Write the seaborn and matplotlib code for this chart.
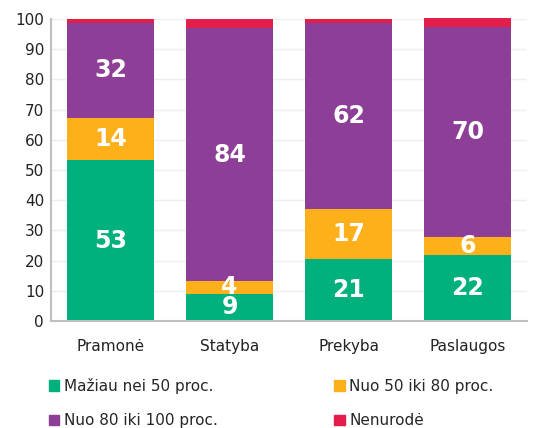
import numpy as np
import pandas as pd
import matplotlib
matplotlib.use('Agg')
import matplotlib.pyplot as plt
import seaborn as sns
from matplotlib.patches import Patch

sectors = ['Pramonė', 'Statyba', 'Prekyba', 'Paslaugos']
series_names = ['Mažiau nei 50 proc.', 'Nuo 50 iki 80 proc.', 'Nuo 80 iki 100 proc.', 'Nenurodė']
less50 = [53.3, 9.0, 20.6, 21.9]
from50to80 = [13.9, 4.3, 16.6, 5.9]
from80to100 = [31.6, 83.6, 61.6, 69.7]
not_given = [1.2, 3.1, 1.2, 2.8]
colors = ['#00B07D', '#FDB01A', '#8D3F97', '#E31E4A']

sns.set_style('white')
plt.rcParams['font.family'] = ['DejaVu Sans']

fig = plt.figure(figsize=(5.55, 4.28), dpi=100)
ax = fig.add_axes([0.092, 0.25, 0.858, 0.7056])

vals = np.array([less50, from50to80, from80to100, not_given])
cum = vals.cumsum(axis=0)

# draw cumulative totals from top layer down so each layer covers the one above
for i in range(3, -1, -1):
    df = pd.DataFrame({'sector': sectors, 'v': cum[i]})
    sns.barplot(data=df, x='sector', y='v', color=colors[i], width=0.73,
                linewidth=0, saturation=1, ax=ax, clip_on=False, zorder=2)

# value labels
for i in range(3):
    for j in range(4):
        mid = cum[i][j] - vals[i][j] / 2
        ax.text(j, mid, str(int(round(vals[i][j]))), ha='center', va='center',
                color='white', fontsize=17, fontweight='bold', zorder=5)

ax.set_ylim(0, 100)
ax.set_xlim(-0.5, 3.5)
ax.set_yticks(range(0, 101, 10))
ax.yaxis.grid(True, color='#EEEEEE', linewidth=1, zorder=0)
ax.set_axisbelow(True)
ax.set_xlabel('')
ax.set_ylabel('')
ax.tick_params(axis='both', labelsize=11, colors='#222222', length=0, pad=5)
ax.tick_params(axis='x', pad=13)
for s in ['top', 'right']:
    ax.spines[s].set_visible(False)
for s in ['left', 'bottom']:
    ax.spines[s].set_color('#BFBFBF')
    ax.spines[s].set_linewidth(1.5)

handles = [Patch(color=colors[k], label=series_names[k]) for k in [0, 2, 1, 3]]
fig.legend(handles=handles, ncol=2, loc='upper left', bbox_to_anchor=(0.063, 0.15),
           frameon=False, fontsize=11, handlelength=0.7, handleheight=0.7,
           handletextpad=0.3, columnspacing=7.6, labelspacing=1.3)

fig.savefig('out.png', dpi=100)
